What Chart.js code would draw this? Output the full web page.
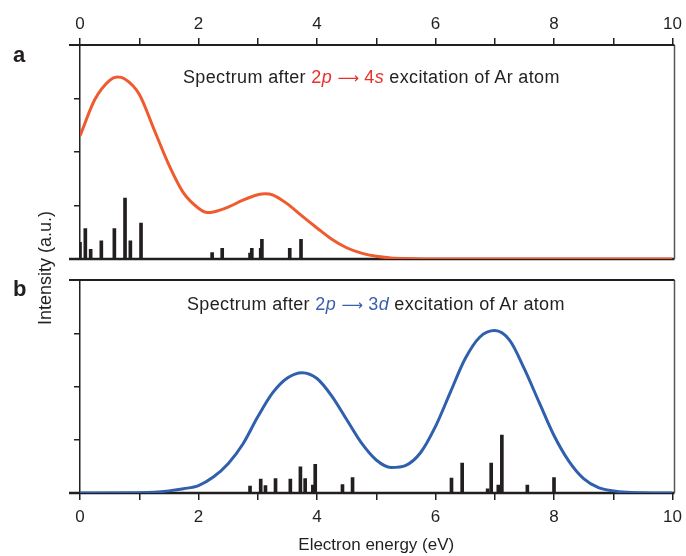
<!DOCTYPE html>
<html>
<head>
<meta charset="utf-8">
<script src="https://cdn.jsdelivr.net/npm/chart.js@4.4.1/dist/chart.umd.min.js"></script>
<style>
body{margin:0;background:#fff;width:686px;height:556px;position:relative;overflow:hidden;font-family:"Liberation Sans",Arial,sans-serif;color:#231f20}
canvas{position:absolute;left:0}
#cA{top:0}
#cB{top:270px}
.lab{position:absolute;font-weight:bold;font-size:22px;line-height:1}
.ttl{position:absolute;font-size:18px;letter-spacing:0.35px;white-space:nowrap;line-height:1}
.seta{font-family:"DejaVu Sans",sans-serif;font-size:15px;letter-spacing:0}
.ylab{position:absolute;left:-25px;top:258px;width:140px;text-align:center;font-size:18px;line-height:20px;white-space:nowrap;transform:rotate(-90deg)}
.r{color:#e8302a}
.b{color:#3a5fb0}
</style>
</head>
<body>
<canvas id="cA" width="686" height="270"></canvas>
<canvas id="cB" width="686" height="286"></canvas>
<div class="lab" style="left:13px;top:44px">a</div>
<div class="lab" style="left:13px;top:278px">b</div>
<div class="ttl" style="left:183px;top:68px">Spectrum after <span class="r">2<i>p</i> <span class="seta">⟶</span> 4<i>s</i></span> excitation of Ar atom</div>
<div class="ttl" style="left:187px;top:295px">Spectrum after <span class="b">2<i>p</i> <span class="seta">⟶</span> 3<i>d</i></span> excitation of Ar atom</div>
<div class="ylab">Intensity (a.u.)</div>
<script>
// painel a: 2p -> 4s
var energiaA = [0, 0.25, 0.5, 0.625, 0.75, 1.0, 1.25, 1.5, 1.75, 2.0, 2.15, 2.25, 2.5, 2.75, 3.0, 3.125, 3.25, 3.5, 3.75, 4.0, 4.25, 4.5, 4.75, 5.0, 5.25, 5.5, 6.0, 7, 8, 9, 10];
var intensidadeA = [2.30, 2.98, 3.34, 3.40, 3.37, 3.08, 2.42, 1.76, 1.23, 0.95, 0.87, 0.88, 0.97, 1.10, 1.20, 1.22, 1.20, 1.03, 0.80, 0.58, 0.37, 0.21, 0.11, 0.05, 0.02, 0.01, 0, 0, 0, 0, 0];
var linhasA = [0.0, 0.09, 0.18, 0.36, 0.58, 0.76, 0.85, 1.03, 2.23, 2.40, 2.87, 2.90, 3.05, 3.07, 3.54, 3.73];
var alturasA = [0.31, 0.57, 0.18, 0.34, 0.57, 1.14, 0.34, 0.67, 0.12, 0.20, 0.11, 0.20, 0.20, 0.37, 0.20, 0.37];

// painel b: 2p -> 3d
var energiaB = [0, 1.0, 1.25, 1.5, 1.75, 2.0, 2.25, 2.5, 2.75, 3.0, 3.25, 3.5, 3.75, 4.0, 4.25, 4.5, 4.75, 5.0, 5.25, 5.5, 5.75, 6.0, 6.25, 6.5, 6.75, 7.0, 7.25, 7.5, 7.75, 8.0, 8.25, 8.5, 8.75, 9.0, 9.25, 9.5, 10];
var intensidadeB = [0, 0.005, 0.015, 0.04, 0.08, 0.14, 0.30, 0.55, 0.92, 1.43, 1.88, 2.16, 2.26, 2.15, 1.82, 1.38, 0.94, 0.62, 0.48, 0.52, 0.76, 1.25, 1.89, 2.52, 2.93, 3.05, 2.87, 2.33, 1.70, 1.08, 0.60, 0.27, 0.10, 0.04, 0.015, 0.005, 0];
var linhasB = [2.87, 3.05, 3.13, 3.30, 3.55, 3.72, 3.80, 3.93, 3.97, 4.43, 4.60, 6.27, 6.45, 6.88, 6.94, 7.06, 7.12, 7.55, 8.00];
var alturasB = [0.13, 0.26, 0.14, 0.27, 0.26, 0.49, 0.27, 0.15, 0.54, 0.16, 0.29, 0.28, 0.56, 0.08, 0.56, 0.15, 1.09, 0.15, 0.29];

var marcasX = [0, 2, 4, 6, 8, 10];

var fonte = '"Liberation Sans", Arial, sans-serif';
var preto = '#231f20';

function pontos(xs, ys){
  return xs.map(function(x, i){ return {x: x, y: ys[i]}; });
}

// linhas de base, borda direita e extensao das bordas para a esquerda
var molduras = {
  id: 'molduras',
  beforeDatasetsDraw: function(chart){
    var c = chart.ctx, a = chart.chartArea;
    var y0 = chart.scales.y.getPixelForValue(0);
    c.save();
    c.strokeStyle = preto;
    c.lineWidth = 2.5;
    c.beginPath(); c.moveTo(a.left - 11, y0); c.lineTo(a.right + 2, y0); c.stroke();
    c.restore();
  },
  afterDraw: function(chart){
    var c = chart.ctx, a = chart.chartArea;
    c.save();
    c.strokeStyle = '#555';
    c.lineWidth = 1.5;
    c.beginPath(); c.moveTo(a.right + 2, a.top); c.lineTo(a.right + 2, a.bottom); c.stroke();
    c.strokeStyle = preto;
    c.lineWidth = 2;
    c.beginPath(); c.moveTo(a.left - 11, a.top); c.lineTo(a.right + 2, a.top); c.stroke();
    c.restore();
  }
};

function opcoes(posicao, titulo, altEixo, pad, padTick){
  return {
    responsive: false,
    animation: false,
    layout: {padding: pad},
    plugins: {legend: {display: false}, tooltip: {enabled: false}},
    scales: {
      x: {
        type: 'linear', position: posicao, min: 0, max: 10, offset: false,
        ticks: {
          stepSize: 1, autoSkip: false, maxRotation: 0, color: preto, padding: padTick,
          font: {size: 17, family: fonte},
          callback: function(v){ return marcasX.indexOf(v) >= 0 ? String(v) : ''; }
        },
        grid: {drawOnChartArea: false, offset: false, tickLength: 7, color: preto, lineWidth: 1.5},
        border: {color: preto, width: 2},
        title: {display: !!titulo, text: titulo, color: preto, font: {size: 17, family: fonte}, padding: 0},
        afterFit: function(s){ s.height = altEixo; s.paddingLeft = 0; s.paddingRight = 0; }
      },
      y: {
        min: 0, max: 4,
        ticks: {stepSize: 1, callback: function(){ return ''; }},
        grid: {drawOnChartArea: false, tickLength: 6, color: preto, lineWidth: 1.5},
        border: {color: preto, width: 1.5},
        afterFit: function(s){ s.width = 0; s.paddingTop = 0; s.paddingBottom = 0; }
      }
    }
  };
}

function conjuntos(ex, ey, lx, ly, cor){
  return [
    {type: 'line', data: pontos(ex, ey), borderColor: cor, borderWidth: 3, pointRadius: 0,
     cubicInterpolationMode: 'monotone', fill: false, order: 1},
    {type: 'bar', data: pontos(lx, ly), backgroundColor: preto, barThickness: 3, order: 2}
  ];
}

new Chart(document.getElementById('cA'), {
  type: 'line',
  data: {datasets: conjuntos(energiaA, intensidadeA, linhasA, alturasA, '#ef5b2e')},
  options: opcoes('top', '', 45, {left: 80, right: 13.5, top: 0, bottom: 11}, 3),
  plugins: [molduras]
});

new Chart(document.getElementById('cB'), {
  type: 'line',
  data: {datasets: conjuntos(energiaB, intensidadeB, linhasB, alturasB, '#2f5fad')},
  options: opcoes('bottom', 'Electron energy (eV)', 63, {left: 80, right: 13.5, top: 10, bottom: 0}, 7),
  plugins: [molduras]
});
</script>
</body>
</html>
